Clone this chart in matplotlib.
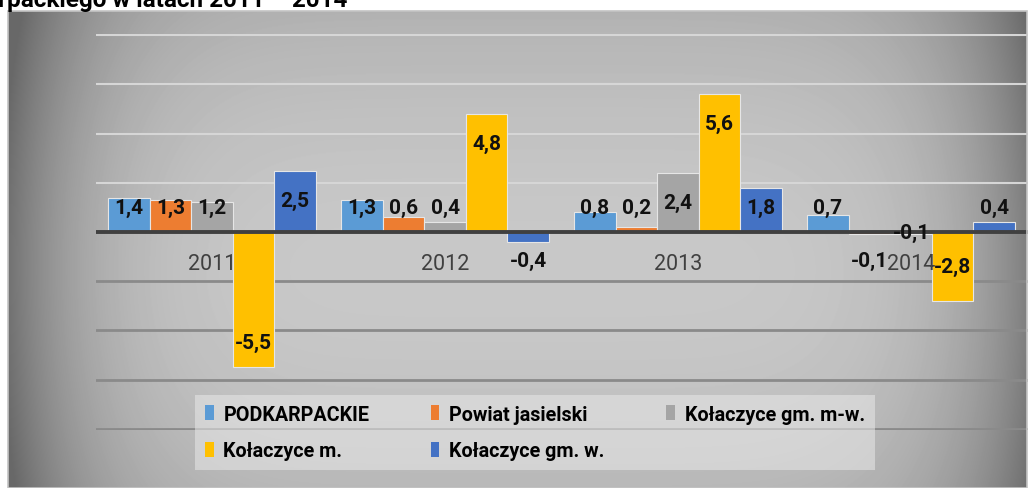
import numpy as np
import matplotlib
matplotlib.use("Agg")
import matplotlib.pyplot as plt

years = ["2011", "2012", "2013", "2014"]
series = ["PODKARPACKIE", "Powiat jasielski", "Kołaczyce gm. m-w.",
          "Kołaczyce m.", "Kołaczyce gm. w."]
podkarpackie = [1.4, 1.3, 0.8, 0.7]
powiat_jasielski = [1.3, 0.6, 0.2, -0.1]
kolaczyce_gm_mw = [1.2, 0.4, 2.4, -0.1]
kolaczyce_m = [-5.5, 4.8, 5.6, -2.8]
kolaczyce_gm_w = [2.5, -0.4, 1.8, 0.4]
values = [podkarpackie, powiat_jasielski, kolaczyce_gm_mw, kolaczyce_m, kolaczyce_gm_w]
colors = ["#5B9BD5", "#ED7D31", "#A5A5A5", "#FFC000", "#4472C4"]
title = "rpackiego w latach 2011 – 2014"

# label positions that were moved by hand in the original (series, year) -> y
label_fix = {(3, 3): -1.4, (2, 3): 0.0}

W, H = 1033, 489
fig = plt.figure(figsize=(W / 100, H / 100), dpi=100)
fig.patch.set_facecolor("white")

# gradient background of the chart frame
x0, y0, x1 = 8, 12, 1027
bg = fig.add_axes([x0 / W, 0, (x1 - x0) / W, (H - y0) / H])
xx, yy = np.meshgrid(np.arange(x0, x1), np.arange(y0, H))
dx = (xx - 525) / 515
dy = (yy - 270) / 290
shade = np.clip(200 - 85 * np.abs(dx) ** 6 - 28 * dy ** 2, 105, 255) / 255
bg.imshow(shade, cmap="gray", vmin=0, vmax=1, aspect="auto", interpolation="bilinear")
bg.set_axis_off()
fig.patches.append(plt.Rectangle((x0 / W, 0), (x1 - x0) / W, (H - y0) / H,
                                 transform=fig.transFigure, fill=False,
                                 edgecolor="#c4c4c4", linewidth=1.2))

ax = fig.add_axes([95.5 / W, (H - 431) / H, 932 / W, 396 / H])
ax.patch.set_alpha(0)
ax.set_xlim(-0.5, 3.5)
ax.set_ylim(-8.05, 8.05)
for g in [2, 4, 6, 8]:
    ax.axhline(g, color="#d6d6d6", linewidth=1.5, zorder=1)
for g in [-2, -4, -6, -8]:
    ax.axhline(g, color="#8a8a8a", linewidth=2, zorder=1)
ax.axhline(0, color="#404040", linewidth=2.8, zorder=3)

bw = 41.6 / 233
xs = np.arange(len(years))
bars = []
for i, (name, vals, c) in enumerate(zip(series, values, colors)):
    b = ax.bar(xs + (i - 2) * bw, vals, width=bw, color=c, edgecolor="#e6e6e6",
               linewidth=0.8, label=name, zorder=2)
    bars.append(b)
    for j, v in enumerate(vals):
        if v >= 0:
            ly = max(v - 1.2, 1.0)
        else:
            ly = min(v + 1.0, -1.15)
        ly = label_fix.get((i, j), ly)
        ax.text(xs[j] + (i - 2) * bw, ly, f"{v:.1f}".replace(".", ","),
                ha="center", va="center", fontsize=15, fontweight="bold",
                family="Roboto", color="#111111", zorder=5)

for j, yr in enumerate(years):
    ax.annotate(yr, (xs[j], 0), xytext=(0, -22.5), textcoords="offset points",
                ha="center", va="center", fontsize=15.5, family="Roboto",
                color="#404040", zorder=4)

ax.set_xticks([])
ax.set_yticks([])
for s in ax.spines.values():
    s.set_visible(False)

order = [0, 3, 1, 4, 2]
leg = fig.legend([bars[k] for k in order], [series[k] for k in order],
                 loc="upper left", bbox_to_anchor=(185 / W, 1 - 386 / H),
                 ncols=3, frameon=True, facecolor="#e8e8e8", framealpha=0.55,
                 edgecolor="none", fancybox=False,
                 prop={"family": "Roboto", "weight": "bold", "size": 14.2},
                 handlelength=0.45, handleheight=0.8, handletextpad=0.5,
                 columnspacing=3.1, borderpad=0.5, labelspacing=0.9)
for h in leg.legend_handles:
    h.set_edgecolor("none")

fig.text(-2 / W, 1 - 7 / H, title, ha="left", va="baseline", fontsize=17.5,
         fontweight="bold", family="Roboto", color="black")

fig.savefig("out.png", dpi=100)
